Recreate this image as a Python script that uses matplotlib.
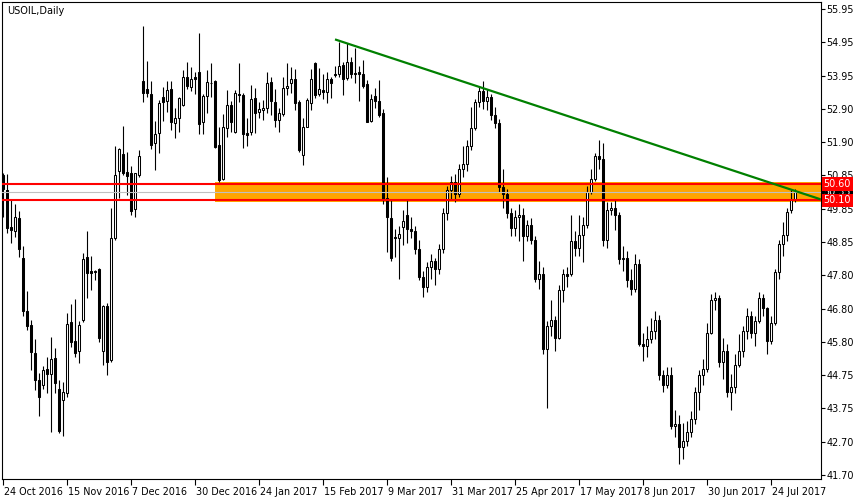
import numpy as np
import matplotlib
matplotlib.use("Agg")
import matplotlib.pyplot as plt
from matplotlib.patches import Rectangle
import matplotlib.transforms as mtransforms

# ---------------- data (USOIL daily candles, one per trading bar) ----------------
opens = [
    50.87, 50.41, 49.27, 49.15, 49.55, 48.35, 46.70, 46.28, 45.42, 44.60,
    44.45, 44.94, 44.79, 45.27, 44.32, 43.99, 44.20, 46.37, 45.80, 45.49,
    46.44, 48.36, 47.94, 47.94, 47.99, 45.50, 46.88, 45.22, 48.94, 51.01,
    51.52, 50.96, 50.93, 49.82, 50.87, 53.75, 53.50, 53.35, 51.84, 52.15,
    53.25, 53.15, 53.50, 52.47, 52.63, 53.01, 53.86, 53.57, 53.86, 54.01,
    52.50, 53.29, 53.68, 53.75, 51.79, 50.74, 52.30, 53.01, 52.20, 53.35,
    53.32, 52.17, 52.20, 53.22, 52.81, 52.86, 52.91, 53.71, 53.12, 52.56,
    52.74, 53.53, 53.68, 53.80, 53.12, 51.49, 52.35, 53.08, 54.29, 53.35,
    53.47, 53.42, 53.80, 53.96, 53.95, 54.24, 53.85, 54.32, 54.00, 54.01,
    53.96, 53.66, 52.53, 53.29, 53.14, 52.76, 50.16, 49.55, 48.99, 48.94,
    49.27, 49.65, 49.21, 49.15, 48.60, 47.75, 47.45, 48.05, 48.25, 48.00,
    48.60, 49.70, 50.40, 50.65, 50.30, 51.05, 51.20, 51.75, 52.30, 53.10,
    53.45, 53.15, 53.25, 52.70, 52.45, 50.50, 50.30, 49.70, 49.25, 49.60,
    49.65, 49.00, 49.35, 48.90, 47.70, 47.85, 45.55, 46.25, 46.45, 45.90,
    47.35, 47.85, 47.85, 48.85, 48.65, 49.05, 49.35, 50.35, 50.75, 51.45,
    51.35, 48.90, 49.80, 49.85, 49.65, 48.30, 48.35, 47.65, 47.40, 48.15,
    45.70, 45.65, 45.85, 46.10, 46.45, 44.75, 44.45, 44.75, 43.20, 43.25,
    42.55, 42.75, 43.00, 43.40, 44.25, 44.75, 44.95, 46.05, 47.05, 47.10,
    45.15, 45.50, 44.25, 44.40, 45.05, 45.50, 46.10, 46.55, 46.05, 46.40,
    47.10, 46.80, 45.80, 46.35, 47.90, 48.75, 49.05, 49.80, 50.15,
]
highs = [
    50.95, 50.90, 50.11, 50.00, 49.77, 48.70, 47.33, 46.44, 45.85, 44.81,
    45.03, 45.32, 45.91, 45.59, 44.60, 44.53, 46.64, 46.93, 47.08, 46.42,
    48.50, 49.16, 48.40, 47.97, 48.02, 46.90, 46.95, 49.86, 51.76, 51.71,
    52.37, 51.59, 51.16, 50.95, 51.64, 55.43, 54.36, 53.76, 52.53, 53.17,
    53.57, 53.75, 53.75, 52.91, 53.27, 54.08, 54.32, 54.19, 54.03, 55.21,
    53.35, 54.08, 54.29, 53.78, 52.33, 52.74, 53.47, 53.14, 53.47, 54.29,
    53.37, 52.61, 53.63, 53.53, 53.12, 53.17, 54.01, 53.88, 53.49, 52.91,
    53.86, 54.29, 54.19, 54.11, 53.17, 52.63, 53.22, 54.11, 54.32, 54.16,
    53.96, 54.01, 53.88, 54.21, 54.95, 54.32, 54.90, 54.49, 54.75, 54.21,
    54.39, 53.78, 53.35, 53.53, 53.78, 52.88, 50.82, 50.11, 49.21, 49.31,
    49.80, 50.11, 49.60, 49.30, 48.90, 47.95, 48.20, 48.45, 48.35, 48.75,
    49.85, 50.55, 50.85, 50.90, 51.20, 51.75, 51.95, 52.95, 53.20, 53.60,
    53.75, 53.50, 53.35, 52.95, 52.60, 51.05, 50.45, 49.85, 49.80, 50.00,
    49.85, 49.50, 49.55, 49.00, 48.25, 48.05, 46.40, 47.05, 46.55, 47.50,
    48.00, 48.05, 49.65, 49.15, 49.65, 49.60, 50.55, 51.05, 51.55, 51.95,
    51.85, 50.05, 50.05, 50.10, 49.75, 48.70, 48.55, 48.00, 48.45, 48.30,
    46.05, 46.25, 46.50, 46.70, 46.60, 44.90, 45.00, 45.00, 43.70, 43.55,
    43.30, 43.35, 43.65, 44.40, 44.90, 45.25, 46.35, 47.25, 47.30, 47.20,
    45.90, 45.70, 44.80, 45.40, 46.00, 46.25, 46.80, 46.70, 46.55, 47.30,
    47.25, 46.85, 46.55, 48.00, 48.90, 49.45, 49.85, 50.40, 50.45,
]
lows = [
    49.60, 49.10, 48.80, 48.98, 48.38, 46.57, 46.13, 44.91, 44.31, 43.51,
    44.33, 44.22, 43.02, 44.20, 42.97, 42.89, 44.09, 45.62, 45.32, 45.11,
    46.39, 47.12, 47.36, 47.66, 45.78, 45.06, 44.76, 45.17, 48.89, 50.16,
    50.87, 50.26, 49.65, 49.58, 50.82, 53.12, 53.27, 51.67, 51.03, 51.54,
    52.53, 52.81, 52.25, 52.01, 52.20, 52.99, 53.50, 53.44, 53.35, 52.12,
    52.12, 52.76, 53.27, 51.69, 50.67, 50.72, 52.05, 52.20, 52.17, 53.12,
    51.69, 51.76, 52.10, 52.17, 52.63, 52.56, 52.76, 52.71, 52.35, 52.20,
    52.68, 53.32, 53.37, 52.86, 51.59, 51.18, 52.33, 52.86, 53.22, 53.29,
    53.20, 53.08, 53.22, 53.88, 53.88, 53.32, 53.78, 53.83, 53.68, 53.15,
    53.53, 52.50, 52.48, 52.91, 52.64, 49.99, 48.53, 48.25, 48.38, 47.68,
    48.73, 48.78, 48.95, 48.45, 47.65, 47.15, 47.30, 47.70, 47.50, 47.85,
    48.50, 49.50, 50.10, 50.05, 50.20, 50.80, 51.00, 51.65, 52.25, 52.95,
    52.90, 52.85, 52.55, 52.30, 50.35, 49.85, 49.55, 49.00, 49.00, 48.85,
    48.25, 48.85, 48.75, 47.60, 47.40, 45.40, 43.75, 45.95, 45.50, 45.85,
    47.00, 47.45, 47.80, 48.40, 48.40, 48.20, 49.25, 50.30, 50.70, 51.05,
    48.70, 48.65, 49.65, 49.20, 48.15, 47.95, 47.45, 47.20, 47.30, 45.65,
    45.20, 45.30, 45.75, 45.85, 44.60, 44.25, 44.35, 43.10, 42.85, 42.05,
    42.20, 42.60, 42.85, 43.25, 43.70, 44.45, 44.85, 46.00, 46.75, 45.00,
    44.65, 44.10, 43.70, 44.20, 45.00, 45.30, 45.85, 45.90, 45.65, 46.35,
    46.55, 45.40, 45.70, 46.30, 47.70, 48.40, 48.85, 49.70, 50.05,
]
closes = [
    50.45, 49.25, 49.18, 49.58, 48.60, 46.72, 46.26, 45.45, 44.62, 44.08,
    44.91, 44.79, 45.24, 44.50, 43.05, 44.23, 46.32, 45.78, 45.44, 46.28,
    48.30, 47.87, 47.89, 47.92, 45.90, 46.87, 45.16, 48.94, 50.87, 51.67,
    50.93, 50.84, 49.78, 50.93, 51.45, 53.37, 53.39, 51.79, 52.12, 53.07,
    53.12, 53.47, 52.48, 52.61, 53.22, 53.86, 53.60, 53.80, 53.80, 52.42,
    53.30, 53.73, 53.70, 51.72, 50.72, 52.33, 53.01, 52.50, 53.37, 53.32,
    52.13, 52.10, 53.19, 52.78, 52.89, 52.91, 53.68, 53.15, 52.56, 52.76,
    53.53, 53.60, 53.80, 53.07, 51.64, 52.33, 53.17, 53.80, 53.32, 53.49,
    53.42, 53.80, 53.70, 53.93, 54.21, 53.81, 54.32, 53.95, 53.96, 53.95,
    53.60, 52.50, 53.20, 53.15, 52.71, 50.13, 49.58, 48.33, 48.94, 49.07,
    49.47, 49.21, 49.15, 48.60, 47.75, 47.45, 48.05, 48.25, 48.00, 48.60,
    49.70, 50.40, 50.65, 50.30, 51.05, 51.20, 51.75, 52.30, 53.10, 53.45,
    53.15, 53.25, 52.70, 52.45, 50.50, 50.30, 49.70, 49.25, 49.60, 49.65,
    49.00, 49.35, 48.90, 47.70, 47.85, 45.55, 46.25, 46.45, 45.90, 47.35,
    47.85, 47.80, 48.85, 48.65, 49.05, 49.35, 50.35, 50.75, 51.45, 51.35,
    48.90, 49.80, 49.85, 49.65, 48.30, 48.35, 47.65, 47.40, 48.15, 45.70,
    45.65, 45.85, 46.10, 46.45, 44.75, 44.45, 44.75, 43.20, 43.25, 42.55,
    42.75, 43.00, 43.40, 44.25, 44.75, 44.95, 46.05, 47.05, 47.10, 45.15,
    45.50, 44.25, 44.40, 45.05, 45.50, 46.10, 46.55, 46.05, 46.40, 47.10,
    46.80, 45.80, 46.35, 47.90, 48.75, 49.05, 49.75, 50.10, 50.35,
]

x_tick_labels = ["24 Oct 2016", "15 Nov 2016", "7 Dec 2016", "30 Dec 2016",
                 "24 Jan 2017", "15 Feb 2017", "9 Mar 2017", "31 Mar 2017",
                 "25 Apr 2017", "17 May 2017", "8 Jun 2017", "30 Jun 2017",
                 "24 Jul 2017"]
y_tick_labels = ["41.70", "42.70", "43.75", "44.75", "45.80", "46.80", "47.80",
                 "48.85", "49.85", "50.85", "51.90", "52.90", "53.95", "54.95",
                 "55.95"]
price_scale_min, price_scale_max = 41.70, 55.95

zone_start_bar = 53          # orange rectangle starts here and runs to the right edge
zone_low, zone_high = 50.04, 50.67
resistance_level = 50.60
support_level = 50.10
bid_level = 50.35
trend_bars = [83, 204.4]
trend_prices = [55.02, 50.13]

assert len(opens) == len(highs) == len(lows) == len(closes)
n = len(opens)

# ---------------- figure ----------------
W, H = 860, 500
plt.rcParams['font.family'] = ['DejaVu Sans']
fig = plt.figure(figsize=(W / 100, H / 100), dpi=100)
fig.patch.set_facecolor('white')

ax_l, ax_r, ax_t, ax_b = 2, 820.5, 2, 479
ax = fig.add_axes([ax_l / W, 1 - ax_b / H, (ax_r - ax_l) / W, (ax_b - ax_t) / H])
ax.set_facecolor('white')

# price scale: labels at evenly spaced rows
px_per_unit = (475 - 9) / (price_scale_max - price_scale_min)
ax.set_ylim(price_scale_min - (ax_b - 475) / px_per_unit,
            price_scale_max + (9 - ax_t) / px_per_unit)
bar_px = 4.0
x0 = (ax_l - 3) / bar_px
ax.set_xlim(x0, x0 + (ax_r - ax_l) / bar_px)

# orange zone
ax.add_patch(Rectangle((zone_start_bar, zone_low), 1000, zone_high - zone_low,
                       facecolor='#FFA500', edgecolor='none', zorder=1))

# candles
idx = np.arange(n)
ax.vlines(idx, lows, highs, color='black', linewidth=0.8, zorder=3)
for i in range(n):
    o, c = opens[i], closes[i]
    bottom = min(o, c)
    height = max(abs(c - o), 0.005)
    fc = 'white' if c > o else 'black'
    ax.add_patch(Rectangle((i - 0.28, bottom), 0.56, height, facecolor=fc,
                           edgecolor='black', linewidth=0.75, zorder=4))

# horizontal lines
ax.axhline(bid_level, color='#C0C0C0', linewidth=0.8, zorder=5)
ax.axhline(resistance_level, color='#FF0000', linewidth=1.5, zorder=6)
ax.axhline(support_level, color='#FF0000', linewidth=1.5, zorder=6)

# trend line
ax.plot(trend_bars, trend_prices, color='#008000', linewidth=1.6, zorder=7,
        solid_capstyle='butt')

# axes styling
for s in ax.spines.values():
    s.set_color('black')
    s.set_linewidth(0.8)

ax.yaxis.tick_right()
yt = np.linspace(price_scale_min, price_scale_max, len(y_tick_labels))
ax.set_yticks(yt)
ax.set_yticklabels(y_tick_labels)
ax.tick_params(axis='y', direction='out', length=3, width=0.8, pad=1.5,
               labelsize=6.9, colors='black', left=False, right=True)

xt = np.arange(len(x_tick_labels)) * 16
ax.set_xticks(xt)
ax.set_xticklabels(x_tick_labels)
ax.tick_params(axis='x', direction='out', length=4, width=0.8, pad=2,
               labelsize=6.9, colors='black')
offset = mtransforms.ScaledTranslation(1.0 / 100, 0, fig.dpi_scale_trans)
for lbl in ax.get_xticklabels():
    lbl.set_horizontalalignment('left')
    lbl.set_transform(lbl.get_transform() + offset)

# price tags on the scale
trans = mtransforms.blended_transform_factory(ax.transAxes, ax.transData)
tags = [(bid_level, 'black'), (resistance_level, '#FF0000'), (support_level, '#FF0000')]
for lvl, col in tags:
    ax.annotate(f"{lvl:.2f}", xy=(1, lvl), xycoords=trans, xytext=(2.2, 0),
                textcoords='offset points', ha='left', va='center',
                fontsize=6.9, color='white', zorder=10, annotation_clip=False,
                bbox=dict(boxstyle='square,pad=0.18', facecolor=col, edgecolor='none'))

# title
fig.text(7 / W, 1 - 11 / H, "USOIL,Daily", fontsize=7, color='black',
         ha='left', va='center')

fig.savefig("out.png", dpi=100, facecolor='white')
